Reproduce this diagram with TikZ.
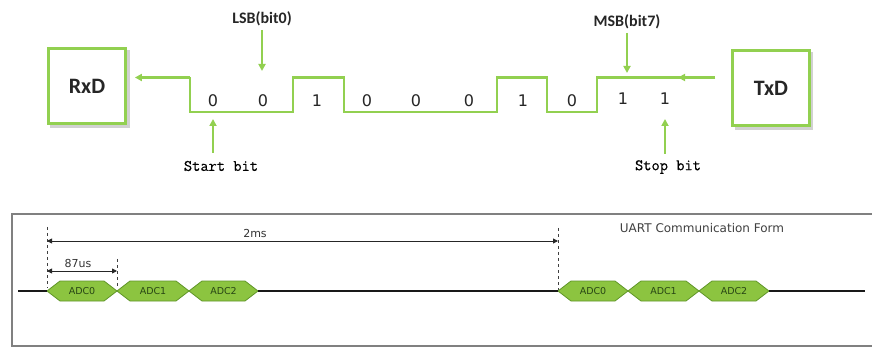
\documentclass[tikz,border=0pt]{standalone}
\usepackage{fontspec}
\setmainfont{DejaVu Sans}
\newfontfamily\labelfont{Carlito}
\newfontfamily\bitnamefont[FakeBold=0.5]{Latin Modern Mono}
\usetikzlibrary{arrows.meta,calc}
\definecolor{sigGreen}{RGB}{146,208,80}
\definecolor{hexFill}{RGB}{140,196,64}
\definecolor{hexEdge}{RGB}{96,150,40}
\definecolor{hexText}{RGB}{40,70,20}
\definecolor{frameGray}{RGB}{128,128,128}
\tikzset{
  sig/.style={draw=sigGreen, line width=2.8pt, line join=miter},
  sigarrow/.style={sig, -{Triangle[length=7pt,width=7pt]}},
  endbox/.style={draw=sigGreen, line width=2.8pt, fill=white, minimum width=77pt, minimum height=75pt,
    font=\labelfont\bfseries\fontsize{22}{24}\selectfont, text=black!85},
  boxshadow/.style={fill=black!18},
  bitlabel/.style={font=\fontsize{16}{18}\selectfont, text=black!85},
  marker/.style={font=\labelfont\bfseries\fontsize{16}{18}\selectfont, text=black!85},
  bitname/.style={font=\bitnamefont\fontsize{16}{18}\selectfont, text=black},
  dimline/.style={draw=black!85, line width=0.9pt, {Triangle[length=5pt,width=5pt]}-{Triangle[length=5pt,width=5pt]}},
  dimlabel/.style={font=\fontsize{11}{13}\selectfont, text=black!80},
  guide/.style={draw=black!75, line width=0.9pt, dash pattern=on 3pt off 3pt},
  baseline/.style={draw=black!90, line width=2pt},
  hexword/.style={draw=hexEdge, line width=0.8pt, fill=hexFill},
  hexlabel/.style={font=\fontsize{9.5}{10}\selectfont, text=hexText},
}
% one data word on the timing line: #1 left tip x, #2 right tip x, #3 name, #4 text
\newcommand\adcword[4]{%
  \coordinate (#3l) at (#1,291);
  \coordinate (#3r) at (#2,291);
  \draw[hexword] (#3l) -- ++(13,-10) -- ($(#3r)+(-13,-10)$) -- (#3r) -- ($(#3r)+(-13,10)$) -- ($(#3l)+(13,10)$) -- cycle;
  \node[hexlabel] (#3) at ($(#3l)!0.5!(#3r)$) {#4};
}
\begin{document}
\begin{tikzpicture}[x=1pt,y=-1pt]
\useasboundingbox[fill=white] (0,0) rectangle (872,347);

% receiver and transmitter blocks
\fill[boxshadow] (50,50) rectangle (130,128);
\node[endbox] (rxd) at (87,86) {RxD};
\fill[boxshadow] (735,52) rectangle (813,130);
\node[endbox] (txd) at (771,88) {TxD};

% serial frame waveform
\coordinate (s0) at (190,77.5);
\coordinate (s1) at (190,112);
\coordinate (s2) at (293,112);
\coordinate (s3) at (293,77.5);
\coordinate (s4) at (344,77.5);
\coordinate (s5) at (344,112);
\coordinate (s6) at (497,112);
\coordinate (s7) at (497,77.5);
\coordinate (s8) at (547,77.5);
\coordinate (s9) at (547,112);
\coordinate (s10) at (597,112);
\coordinate (s11) at (597,77.5);
\coordinate (s12) at (715,77.5);
\coordinate (txmid) at (678,77.5);
\draw[sig] (s12) -- (s11) -- (s10) -- (s9) -- (s8) -- (s7) -- (s6) -- (s5) -- (s4) -- (s3) -- (s2) -- (s1) -- (s0);
\draw[sigarrow] (s0) -- ([xshift=8pt]rxd.east |- s0);
\draw[sigarrow] (s12) -- (txmid);

% bit values
\node[bitlabel] (b0) at (213,101) {0};
\node[bitlabel] (b1) at (263,101) {0};
\node[bitlabel] (b2) at (317,101) {1};
\node[bitlabel] (b3) at (367,101) {0};
\node[bitlabel] (b4) at (416,101) {0};
\node[bitlabel] (b5) at (469,101) {0};
\node[bitlabel] (b6) at (523,101) {1};
\node[bitlabel] (b7) at (572,101) {0};
\node[bitlabel] (b8) at (623,99) {1};
\node[bitlabel] (b9) at (665,99) {1};

% markers
\node[marker] (lsb) at (262,19) {LSB(bit0)};
\node[marker] (msb) at (627,22) {MSB(bit7)};
\coordinate (lsbtip) at (262,71);
\coordinate (msbtip) at (627,73);
\draw[sigarrow] (lsb.south |- 0,30) -- (lsbtip);
\draw[sigarrow] (msb.south |- 0,33) -- (msbtip);
\node[bitname] (start) at (221,166) {Start bit};
\node[bitname] (stop) at (668,167) {Stop bit};
\coordinate (starttip) at (213,119);
\coordinate (stoptip) at (665,119);
\draw[sigarrow] (starttip |- 0,153) -- (starttip);
\draw[sigarrow] (stoptip |- 0,154) -- (stoptip);

% timing frame
\draw[frameGray, line width=1.3pt] (880,214) -- (12,214) -- (12,346) -- (880,346);
\node[font=\fontsize{12}{14}\selectfont, text=black!75] (title) at (702,228) {UART Communication Form};

\coordinate (g0top) at (47,227);
\coordinate (g0bot) at (47,288);
\coordinate (g1top) at (117,259);
\coordinate (g1bot) at (117,288);
\coordinate (g2top) at (558,228);
\coordinate (g2bot) at (558,290);
\draw[guide] (g0top) -- (g0bot);
\draw[guide] (g1top) -- (g1bot);
\draw[guide] (g2top) -- (g2bot);
\draw[dimline] (g0top |- 0,241) -- (g2top |- 0,241);
\node[dimlabel] (period) at (255,233) {2ms};
\draw[dimline] (g0top |- 0,271) -- (g1top |- 0,271);
\node[dimlabel] (wordtime) at (78,263) {87us};

% data words on the line
\coordinate (l0) at (18,291);
\coordinate (l3) at (865,291);
\adcword{47}{117}{a0}{ADC0}
\adcword{117}{189}{a1}{ADC1}
\adcword{189}{258}{a2}{ADC2}
\adcword{558}{628}{c0}{ADC0}
\adcword{628}{699}{c1}{ADC1}
\adcword{699}{769}{c2}{ADC2}
\draw[baseline] (l0) -- (a0l);
\draw[baseline] (a2r) -- (c0l);
\draw[baseline] (c2r) -- (l3);
\end{tikzpicture}
\end{document}
